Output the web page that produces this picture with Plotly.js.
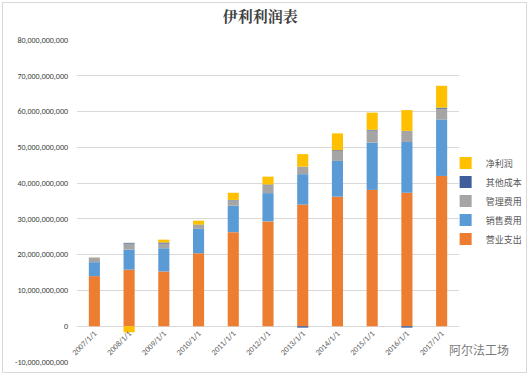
<!DOCTYPE html>
<html>
<head>
<meta charset="utf-8">
<script src="https://cdn.plot.ly/plotly-3.0.1.min.js"></script>
<style>
  html, body { margin: 0; padding: 0; background: #ffffff; }
  #chart { width: 531px; height: 377px; }
  #frame { position: absolute; left: 2px; top: 2px; width: 523px; height: 369px;
           border: 1px solid #d9d9d9; pointer-events: none; }
</style>
</head>
<body>
<div id="chart"></div>
<div id="frame"></div>
<script>
const categories = ["2007/1/1","2008/1/1","2009/1/1","2010/1/1","2011/1/1","2012/1/1","2013/1/1","2014/1/1","2015/1/1","2016/1/1","2017/1/1"];
// values in billions (x 1e9)
const opCost   = [14.0, 15.8, 15.3, 20.4, 26.3, 29.3, 34.0, 36.2, 38.1, 37.3, 42.0]; // 营业支出
const salesExp = [3.9, 5.6, 6.5, 6.8, 7.4, 7.9, 8.5, 10.0, 13.2, 14.2, 15.8];     // 销售费用
const mgmtExp  = [1.2, 1.7, 1.3, 1.1, 1.5, 2.2, 2.1, 2.8, 3.4, 3.1, 3.0];          // 管理费用
const otherCost= [0.05, 0.2, 0.3, 0.1, 0.1, 0.2, -0.4, 0.2, 0.2, -0.4, 0.3];       // 其他成本
const netProfit= [0.05, -1.7, 0.8, 1.1, 2.0, 2.2, 3.5, 4.7, 4.8, 5.8, 6.1];        // 净利润
const seriesNames = ["营业支出","销售费用","管理费用","其他成本","净利润"];
const yTicks = [-10, 0, 10, 20, 30, 40, 50, 60, 70, 80];

const B = 1e9;
const colors = ["#ED7D31","#5B9BD5","#A5A5A5","#3E5E9C","#FFC000"];
const allSeries = [opCost, salesExp, mgmtExp, otherCost, netProfit];

const traces = allSeries.map((s, i) => ({
  type: "bar",
  name: seriesNames[i],
  x: categories,
  y: s.map(v => v * B),
  marker: { color: colors[i] },
  hoverinfo: "name+y"
}));

const layout = {
  width: 531, height: 377,
  margin: { l: 77, r: 72, t: 40, b: 15, autoexpand: false },
  paper_bgcolor: "#ffffff",
  plot_bgcolor: "#ffffff",
  barmode: "relative",
  bargap: 0.68,
  font: { family: "Calibri, 'Liberation Sans', 'Noto Sans CJK SC', sans-serif", color: "#595959", size: 8 },
  title: {
    text: "<b>伊利利润表</b>",
    x: 0.49, xanchor: "center", y: 0.955, yanchor: "middle",
    font: { family: "'Noto Serif CJK SC', 'Noto Sans CJK SC', serif", size: 15, color: "#404040" }
  },
  xaxis: {
    type: "category",
    anchor: "free",
    position: 1/9,
    tickangle: -45,
    showgrid: false,
    showline: false,
    ticks: "",
    tickfont: { size: 8, color: "#595959" },
    fixedrange: true
  },
  yaxis: {
    range: [-10 * B, 80 * B],
    tickvals: yTicks.map(v => v * B),
    ticktext: yTicks.map(v => (v * B).toLocaleString("en-US")),
    showgrid: true,
    gridcolor: "#d9d9d9",
    gridwidth: 1,
    zeroline: true,
    zerolinecolor: "#d9d9d9",
    zerolinewidth: 1,
    showline: false,
    ticks: "",
    ticklabelstandoff: 8,
    tickfont: { size: 8, color: "#404040" },
    fixedrange: true
  },
  legend: {
    x: 0.965, xanchor: "left",
    y: 0.5, yanchor: "middle",
    traceorder: "reversed",
    font: { size: 9, color: "#595959", family: "'Noto Sans CJK SC', sans-serif" },
    itemwidth: 30,
    tracegroupgap: 0,
    bgcolor: "rgba(0,0,0,0)"
  },
  annotations: [{
    text: "阿尔法工场",
    xref: "paper", yref: "paper",
    x: 0.968, y: 0.04,
    xanchor: "left", yanchor: "middle",
    showarrow: false,
    font: { size: 12, color: "#7a7a7a", family: "'Noto Sans CJK SC', sans-serif" }
  }],
  showlegend: true
};

Plotly.newPlot("chart", traces, layout, { displayModeBar: false, staticPlot: true });
</script>
</body>
</html>
